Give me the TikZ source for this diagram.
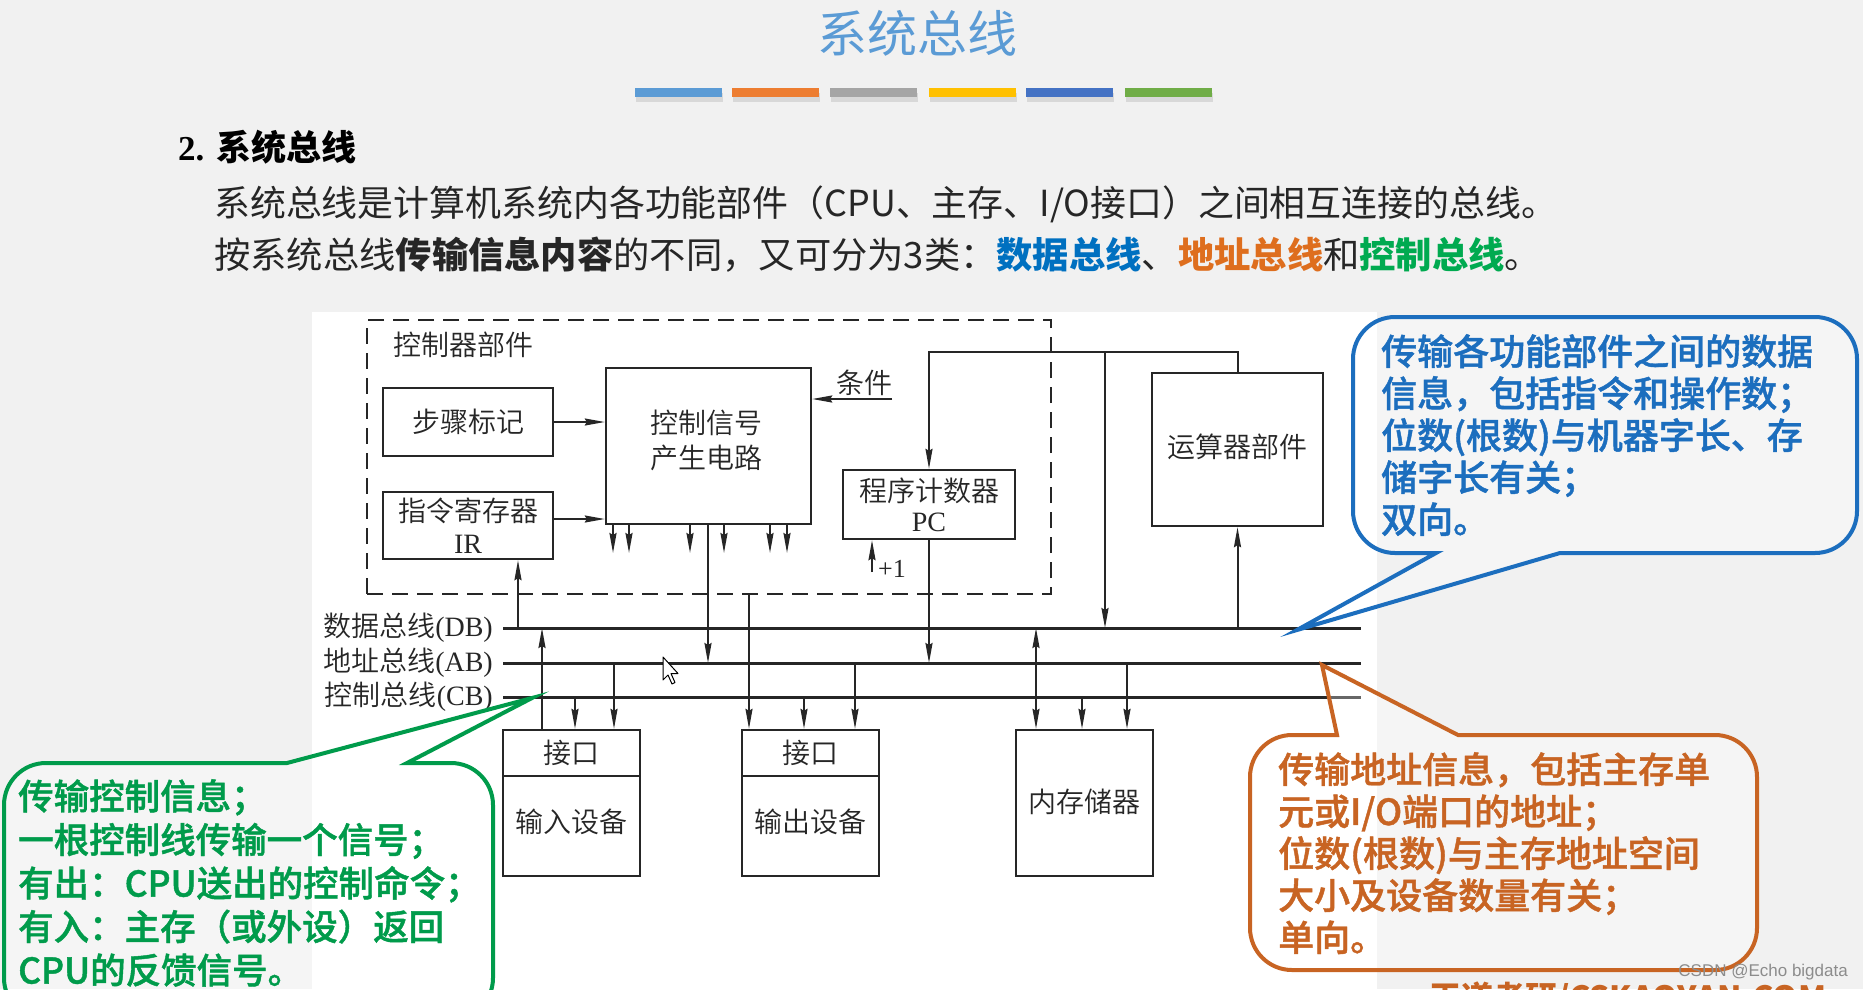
\documentclass[tikz,border=0pt]{standalone}
\usepackage{fontspec}
\setmainfont{Liberation Serif}
\newfontfamily\cjk{Noto Sans CJK SC}
\IfFontExistsTF{Noto Sans CJK SC DemiLight}
  {\newfontfamily\cjkthin{Noto Sans CJK SC DemiLight}}
  {\newfontfamily\cjkthin{Noto Sans CJK SC}}
\IfFontExistsTF{Noto Sans CJK SC Medium}
  {\newfontfamily\cjkmid{Noto Sans CJK SC Medium}[FakeBold=1.2]}
  {\newfontfamily\cjkmid{Noto Sans CJK SC}[FakeBold=2.5]}
\newfontfamily\wmfont{Liberation Sans}
\usetikzlibrary{arrows.meta}

\definecolor{slidebg}{RGB}{241,241,241}
\definecolor{ink}{RGB}{38,38,38}
\definecolor{titleblue}{RGB}{91,155,213}
\definecolor{barA}{RGB}{91,155,213}
\definecolor{barB}{RGB}{237,125,49}
\definecolor{barC}{RGB}{165,165,165}
\definecolor{barD}{RGB}{255,192,0}
\definecolor{barE}{RGB}{68,114,196}
\definecolor{barF}{RGB}{112,173,71}
\definecolor{dbblue}{RGB}{0,112,192}
\definecolor{aborange}{RGB}{222,110,30}
\definecolor{cbgreen}{RGB}{0,170,80}
\definecolor{bubblue}{RGB}{28,110,190}
\definecolor{buborange}{RGB}{200,100,35}
\definecolor{bubgreen}{RGB}{0,155,75}

\tikzset{
  wire/.style={draw=ink, line width=2pt},
  arr/.style={wire, -{Stealth[length=20pt,width=7pt,inset=2pt]}},
  darr/.style={wire, {Stealth[length=20pt,width=7pt,inset=2pt]}-{Stealth[length=20pt,width=7pt,inset=2pt]}},
  bus/.style={draw=ink, line width=3pt},
  unit/.style={draw=ink, line width=2.4pt, fill=white, inner sep=0pt},
  lbl/.style={inner sep=0pt, font=\cjkthin\fontsize{28}{33}\selectfont, text=ink, align=center},
  bubble/.style={line width=4pt, fill=white, fill opacity=0.3, draw opacity=1},
  bubtext/.style={inner sep=0pt, anchor=north west, align=left, font=\cjkmid\fontsize{36}{42}\selectfont},
}

\begin{document}
\begin{tikzpicture}[x=1pt,y=-1pt]
\useasboundingbox (0,0) rectangle (1863,989);
\clip (0,0) rectangle (1863,989);
\fill[slidebg] (0,0) rectangle (1863,989);

% heading and colour strip
\node[text=titleblue, inner sep=0pt] (title) at (917,33) {\cjk\fontsize{50}{50}\selectfont 系统总线};
\foreach \x/\c in {635/barA, 732/barB, 830/barC, 929/barD, 1026/barE, 1125/barF}{
  \fill[black, opacity=0.10] ({\x+1},93) rectangle ({\x+88},102);
  \fill[\c] (\x,88) rectangle ({\x+87},97);
}

% section heading and intro text
\node[anchor=west, inner sep=0pt] (sec) at (178,147)
  {\fontsize{35}{35}\selectfont\bfseries 2. {\cjk 系统总线}};
\node[anchor=west, inner sep=0pt, text=black!85] (intro1) at (214,204)
  {\cjk\fontsize{35.9}{40}\selectfont 系统总线是计算机系统内各功能部件（CPU、主存、I/O接口）之间相互连接的总线。};
\node[anchor=west, inner sep=0pt, text=black!85] (intro2) at (214,255)
  {\cjk\fontsize{36.3}{40}\selectfont 按系统总线{\bfseries 传输信息内容}的不同，又可分为3类：{\bfseries\color{dbblue}数据总线}、{\bfseries\color{aborange}地址总线}和{\bfseries\color{cbgreen}控制总线}。};

% diagram panel
\fill[white] (312,312) rectangle (1377,995);

% controller unit (dashed)
\node[draw=ink, line width=2.4pt, dash pattern=on 16pt off 9pt, inner sep=0pt,
      minimum width=684pt, minimum height=274pt] (cu) at (709,457) {};
\node[lbl, anchor=west] (cuname) at (393,345) {控制器部件};

\node[unit, minimum width=170pt, minimum height=68pt] (step) at (468,422) {};
\node[lbl] (steplbl) at (step) {步骤标记};
\node[unit, minimum width=170pt, minimum height=67pt] (ir) at (468,525.5) {};
\node[lbl] (irlbl) at (468,526) {指令寄存器\\[-1pt]{\rmfamily IR}};
\node[unit, minimum width=205pt, minimum height=156pt] (ctrl) at (708.5,446) {};
\node[lbl] (ctrllbl) at (706,440) {控制信号\\[2pt]产生电路};
\node[unit, minimum width=172pt, minimum height=69pt] (pc) at (929,504.5) {};
\node[lbl] (pclbl) at (929,505) {程序计数器\\[-3pt]{\rmfamily PC}};
\node[unit, minimum width=171pt, minimum height=153pt] (alu) at (1237.5,449.5) {};
\node[lbl] (alulbl) at (1237.5,447) {运算器部件};

% I/O units and memory
\node[unit, minimum width=137pt, minimum height=146pt] (inbox) at (571.5,803) {};
\coordinate (insep) at (503,776);
\draw[draw=ink, line width=2.4pt] (insep) -- (insep -| inbox.east);
\node[lbl] (inif) at (571.5,753) {接口};
\node[lbl] (indev) at (571.5,822) {输入设备};
\node[unit, minimum width=137pt, minimum height=146pt] (outbox) at (810.5,803) {};
\coordinate (outsep) at (742,776);
\draw[draw=ink, line width=2.4pt] (outsep) -- (outsep -| outbox.east);
\node[lbl] (outif) at (810.5,753) {接口};
\node[lbl] (outdev) at (810.5,822) {输出设备};
\node[unit, minimum width=137pt, minimum height=146pt] (mem) at (1084.5,803) {};
\node[lbl] (memlbl) at (1084.5,802) {内存储器};

% buses
\coordinate (dbL) at (503,628); \coordinate (dbR) at (1361,628);
\coordinate (abL) at (503,663); \coordinate (abR) at (1361,663);
\coordinate (cbL) at (503,697); \coordinate (cbR) at (1361,697);
\draw[bus] (dbL) -- (dbR);
\draw[bus] (abL) -- (abR);
\draw[bus] (cbL) -- (cbR);
\node[lbl, anchor=east] (dblbl) at (493,628) {数据总线{\rmfamily(DB)}};
\node[lbl, anchor=east] (ablbl) at (493,663) {地址总线{\rmfamily(AB)}};
\node[lbl, anchor=east] (cblbl) at (493,697) {控制总线{\rmfamily(CB)}};

% connections inside the controller
\draw[arr] (step.east) -- (step.east -| ctrl.west);
\coordinate (irout) at (553,519);
\draw[arr] (irout) -- (irout -| ctrl.west);
\coordinate (irin) at (518,628);
\draw[arr] (irin) -- (irin |- ir.south);
\coordinate (cond) at (892,399);
\draw[arr] (cond) -- (cond -| ctrl.east);
\node[lbl, anchor=east] (condlbl) at (893,383) {条件};
\foreach \x [count=\i] in {613,629,690,724,770,787}{
  \coordinate (cs\i) at (\x,553);
  \draw[arr] (cs\i |- ctrl.south) -- (cs\i);
}
\coordinate (ca) at (708,663);
\draw[arr] (ca |- ctrl.south) -- (ca);
\coordinate (inc) at (872,572);
\draw[arr] (inc) -- (inc |- pc.south);
\node[inner sep=0pt, anchor=west, text=ink] (inclbl) at (878,569) {\fontsize{26}{26}\selectfont +1};
\draw[arr] (pc.south) -- (pc.south |- abL);

% loop between ALU, PC and data bus
\coordinate (pcin) at (929,352);
\coordinate (loopR) at (alu.north |- pcin);
\draw[arr] (alu.north) -- (loopR) -- (pcin) -- (pc.north);
\coordinate (alud) at (1105,352);
\draw[arr] (alud) -- (alud |- dbL);
\draw[arr] (alu.south |- dbL) -- (alu.south);

% bus taps of the I/O units and memory
\coordinate (i1) at (542,628); \draw[arr] (i1 |- inbox.north) -- (i1);
\coordinate (i2) at (575,697); \draw[arr] (i2) -- (i2 |- inbox.north);
\coordinate (i3) at (614,663); \draw[arr] (i3) -- (i3 |- inbox.north);
\coordinate (o1) at (749,594); \draw[arr] (o1) -- (o1 |- outbox.north);
\coordinate (o2) at (804,697); \draw[arr] (o2) -- (o2 |- outbox.north);
\coordinate (o3) at (855,663); \draw[arr] (o3) -- (o3 |- outbox.north);
\coordinate (m1) at (1036,628); \draw[darr] (m1) -- (m1 |- mem.north);
\coordinate (m2) at (1082,697); \draw[arr] (m2) -- (m2 |- mem.north);
\coordinate (m3) at (1127,663); \draw[arr] (m3) -- (m3 |- mem.north);

% pointer
\draw[fill=white, draw=black, line width=1pt, line join=round] (663,657) -- ++(0,23) -- ++(5,-5) -- ++(4,9) -- ++(3,-1.5) -- ++(-4,-9) -- ++(7,0) -- cycle;

% callouts
\draw[bubble, draw=bubblue] (1395,317) -- (1815,317) arc[start angle=270,end angle=360,radius=42]
  -- (1857,511) arc[start angle=0,end angle=90,radius=42]
  -- (1560,553) -- (1297,630) -- (1436,553)
  -- (1395,553) arc[start angle=90,end angle=180,radius=42]
  -- (1353,359) arc[start angle=180,end angle=270,radius=42] -- cycle;
\node[bubtext, text=bubblue] (dbnote) at (1381,334)
  {传输各功能部件之间的数据\\信息，包括指令和操作数；\\位数(根数)与机器字长、存\\储字长有关；\\双向。};

\draw[bubble, draw=buborange] (1292,735) -- (1337,735) -- (1322,665) -- (1458,735)
  -- (1715,735) arc[start angle=270,end angle=360,radius=42]
  -- (1757,928) arc[start angle=0,end angle=90,radius=42]
  -- (1292,970) arc[start angle=90,end angle=180,radius=42]
  -- (1250,777) arc[start angle=180,end angle=270,radius=42] -- cycle;
\node[bubtext, text=buborange] (abnote) at (1278,752)
  {传输地址信息，包括主存单\\元或I/O端口的地址；\\位数(根数)与主存地址空间\\大小及设备数量有关；\\单向。};

\draw[bubble, draw=bubgreen] (46,763) -- (287,763) -- (532,698) -- (407,763)
  -- (451,763) arc[start angle=270,end angle=360,radius=42]
  -- (493,978) arc[start angle=0,end angle=90,radius=42]
  -- (46,1020) arc[start angle=90,end angle=180,radius=42]
  -- (4,805) arc[start angle=180,end angle=270,radius=42] -- cycle;
\node[bubtext, text=bubgreen, font=\cjkmid\fontsize{35.5}{43.5}\selectfont] (cbnote) at (18,779)
  {传输控制信息；\\一根控制线传输一个信号；\\有出：CPU送出的控制命令；\\有入：主存（或外设）返回\\CPU的反馈信号。};

% footer marks
\node[anchor=west, inner sep=0pt, text=buborange] (site) at (1429,999)
  {\cjk\bfseries\fontsize{32}{32}\selectfont 王道考研/CSKAOYAN.COM};
\node[anchor=east, inner sep=0pt, text=black!45] (wm) at (1848,972)
  {\wmfont\fontsize{17}{17}\selectfont CSDN @Echo bigdata};
\end{tikzpicture}
\end{document}
